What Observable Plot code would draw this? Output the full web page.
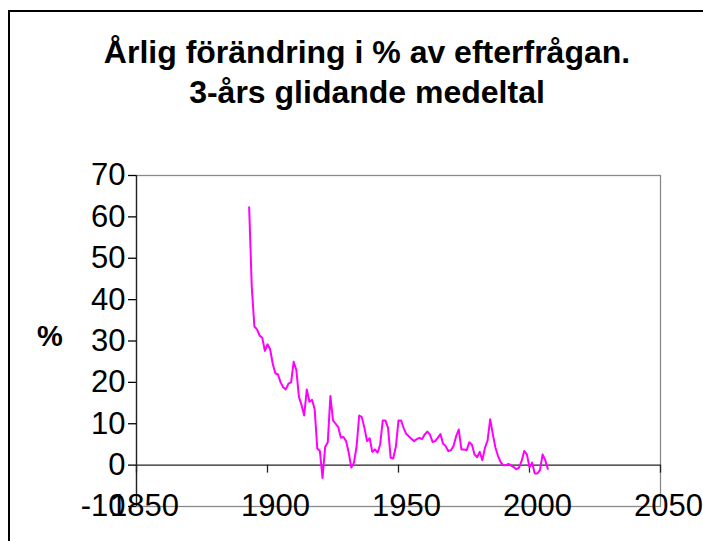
<!DOCTYPE html>
<html><head><meta charset="utf-8">
<script src="https://cdn.jsdelivr.net/npm/d3@7"></script>
<script src="https://cdn.jsdelivr.net/npm/@observablehq/plot@0.6"></script>
<style>
html,body{margin:0;padding:0;background:#fff;overflow:hidden;}
#wrap{position:relative;width:703px;height:541px;font-family:"Liberation Sans",Arial,sans-serif;color:#000;}
#frame{position:absolute;left:8px;top:10px;width:760px;height:620px;border:2px solid #000;box-sizing:border-box;}
#title{position:absolute;top:32px;left:367px;transform:translateX(-50%);white-space:nowrap;text-align:center;font-weight:bold;font-size:32px;line-height:40px;}
#ylab{position:absolute;left:37px;top:322px;font-weight:bold;font-size:29px;line-height:29px;}
#chart{position:absolute;left:0;top:0;}
</style></head><body>
<div id="wrap">
  <div id="frame"></div>
  <div id="chart"></div>
  <div id="title">Årlig förändring i % av efterfrågan.<br>3-års glidande medeltal</div>
  <div id="ylab">%</div>
</div>
<script>
const titleLines = ["Årlig förändring i % av efterfrågan.", "3-års glidande medeltal"];
const yLabel = "%";
const startYear = 1893;
const values = [
  62.3, 43.0, 33.5, 32.8, 31.3, 30.8, 27.6, 29.2, 28.0, 24.5,
  22.2, 21.9, 20.0, 18.8, 18.3, 19.7, 20.0, 25.0, 23.0, 16.5,
  14.5, 12.0, 18.3, 15.3, 15.8, 13.5, 4.0, 3.4, -3.1, 4.4,
  5.5, 16.7, 10.8, 10.0, 9.2, 6.6, 6.8, 5.8, 3.0, -0.6,
  0.6, 4.5, 12.0, 11.6, 9.0, 5.8, 6.5, 3.2, 3.8, 3.0,
  5.0, 10.8, 10.8, 9.0, 1.8, 1.6, 4.5, 10.8, 10.8, 8.9,
  7.5, 6.9, 6.3, 5.8, 6.3, 6.6, 6.3, 7.4, 8.1, 7.4,
  5.6, 5.8, 6.6, 7.5, 5.2, 4.6, 3.4, 3.6, 4.6, 7.0,
  8.6, 3.8, 3.8, 3.6, 5.5, 5.0, 2.6, 1.9, 3.2, 1.2,
  4.2, 6.0, 11.1, 7.5, 4.2, 2.2, 0.7, 0.0, 0.0, 0.3,
  -0.1, -0.5, -1.0, -0.6, 1.0, 3.4, 2.6, -0.5, 0.6, -2.0,
  -2.0, -1.2, 2.6, 1.2, -0.9
];
const xTicks = [1850, 1900, 1950, 2000, 2050];
const yTicks = [-10, 0, 10, 20, 30, 40, 50, 60, 70];

const data = values.map((v, i) => ({year: startYear + i, value: v}));

const font = '"Liberation Sans", Arial, sans-serif';
const chart = Plot.plot({
  width: 703,
  height: 541,
  marginLeft: 136,
  marginRight: 43,
  marginTop: 175,
  marginBottom: 35,
  style: {fontFamily: font, fontSize: "31px", color: "#000", background: "transparent"},
  x: {domain: [xTicks[0], xTicks[xTicks.length - 1]]},
  y: {domain: [yTicks[0], yTicks[yTicks.length - 1]]},
  marks: [
    Plot.frame({stroke: "#8a8a8a", strokeWidth: 1.3}),
    Plot.ruleY([0], {stroke: "#222", strokeWidth: 1.3}),
    Plot.ruleX(xTicks, {y1: 0, y2: 0, insetBottom: -8, stroke: "#222", strokeWidth: 1.3}),
    Plot.ruleX([xTicks[0]], {stroke: "#222", strokeWidth: 1.3}),
    Plot.axisY(yTicks, {anchor: "left", tickSize: 8, tickPadding: 3, tickFormat: d => String(d), fontSize: 31, label: null, strokeWidth: 1.3}),
    Plot.axisX(xTicks, {anchor: "bottom", tickSize: 0, tickPadding: 0, dy: -13, dx: 8, tickFormat: d => String(d), fontSize: 31, label: null}),
    Plot.line(data, {x: "year", y: "value", stroke: "#FF00FF", strokeWidth: 2})
  ]
});
document.getElementById("chart").appendChild(chart);
const t = document.getElementById("title");
t.innerHTML = "";
titleLines.forEach((s, i) => { if (i) t.appendChild(document.createElement("br")); t.appendChild(document.createTextNode(s)); });
document.getElementById("ylab").textContent = yLabel;
</script>
</body></html>
